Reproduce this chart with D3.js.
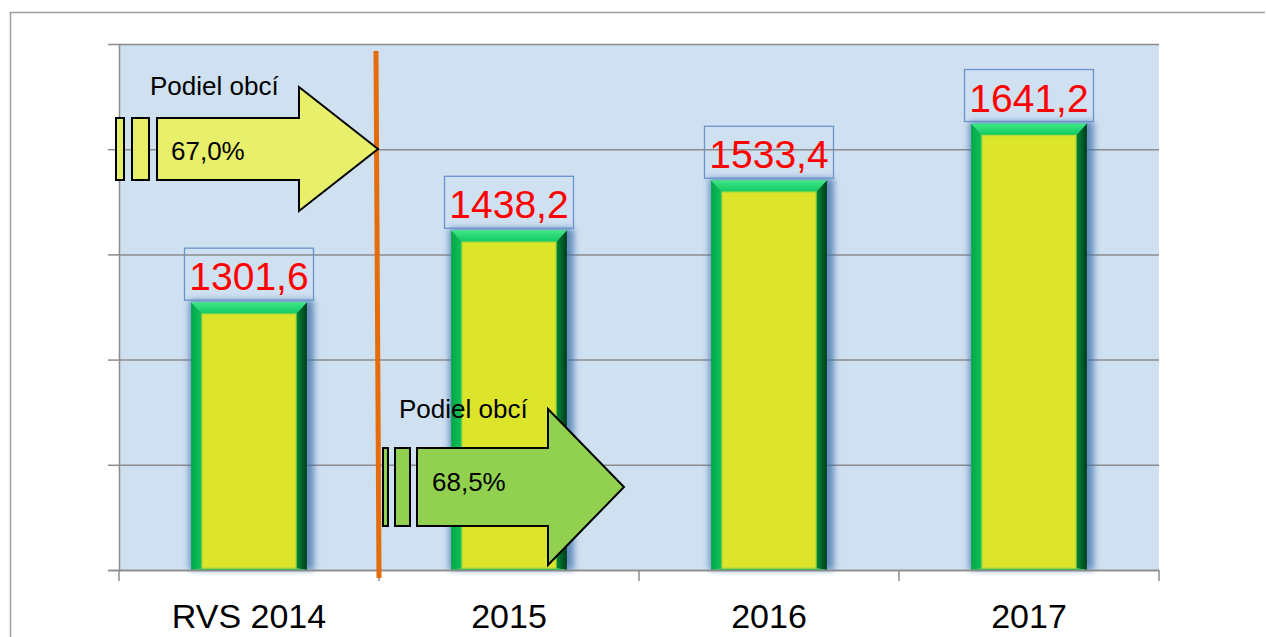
<!DOCTYPE html>
<html>
<head>
<meta charset="utf-8">
<script src="https://cdnjs.cloudflare.com/ajax/libs/d3/7.8.5/d3.min.js"></script>
<style>
  html, body { margin: 0; padding: 0; background: #ffffff; }
  svg { display: block; font-family: "Liberation Sans", Arial, sans-serif; }
</style>
</head>
<body>
<svg id="chart" width="1266" height="637"></svg>
<script>
// ---- data ----
const categories = ["RVS 2014", "2015", "2016", "2017"];
const values = [1301.6, 1438.2, 1533.4, 1641.2];
const yTicks = [800, 1000, 1200, 1400, 1600, 1800];
const shareLabels = ["Podiel obcí", "Podiel obcí"];
const shareValues = ["67,0%", "68,5%"];

const svg = d3.select("#chart");
const W = 1266, H = 637;
const plot = { left: 119, right: 1159, top: 44, bottom: 570 };

const x = d3.scaleBand().domain(categories).range([plot.left, plot.right]).paddingInner(0).paddingOuter(0);
const y = d3.scaleLinear().domain([800, 1800]).range([plot.bottom, plot.top]);

const defs = svg.append("defs");
const rightGrad = defs.append("linearGradient").attr("id", "rightBevel").attr("x1", "0").attr("x2", "1");
rightGrad.append("stop").attr("offset", "0").attr("stop-color", "#008a3a");
rightGrad.append("stop").attr("offset", "1").attr("stop-color", "#003d18");
const leftGrad = defs.append("linearGradient").attr("id", "leftBevel").attr("x1", "0").attr("x2", "1");
leftGrad.append("stop").attr("offset", "0").attr("stop-color", "#00a848");
leftGrad.append("stop").attr("offset", "1").attr("stop-color", "#12c05a");
const topGrad = defs.append("linearGradient").attr("id", "topBevel").attr("x1", "0").attr("x2", "0").attr("y1", "0").attr("y2", "1");
topGrad.append("stop").attr("offset", "0").attr("stop-color", "#40e888");
topGrad.append("stop").attr("offset", "1").attr("stop-color", "#10c860");
const blur = defs.append("filter").attr("id", "glow").attr("x", "-30%").attr("y", "-10%").attr("width", "160%").attr("height", "120%");
blur.append("feGaussianBlur").attr("stdDeviation", 3);

// outer frame (top and left edges)
svg.append("line").attr("x1", 10).attr("x2", 1265).attr("y1", 12.5).attr("y2", 12.5)
  .attr("stroke", "#a0a0a0").attr("stroke-width", 1.5);
svg.append("line").attr("x1", 10.5).attr("x2", 10.5).attr("y1", 12).attr("y2", H)
  .attr("stroke", "#a0a0a0").attr("stroke-width", 1.5);

// plot background
svg.append("rect").attr("x", plot.left).attr("y", plot.top)
  .attr("width", plot.right - plot.left).attr("height", plot.bottom - plot.top)
  .attr("fill", "#cfe0f1");

// gridlines
const yAxis = d3.axisLeft(y).tickValues(yTicks).tickSize(-(plot.right - plot.left)).tickFormat("").tickSizeOuter(0);
const gy = svg.append("g").attr("transform", `translate(${plot.left},0)`).call(yAxis);
gy.select(".domain").attr("stroke", "#8c8c8c").attr("stroke-width", 1.5);
gy.selectAll(".tick line").attr("stroke", "#8c8c8c").attr("stroke-width", 1.5);
// left tick stubs
const yStub = d3.axisLeft(y).tickValues(yTicks).tickSize(11).tickFormat("").tickSizeOuter(0);
const gys = svg.append("g").attr("transform", `translate(${plot.left},0)`).call(yStub);
gys.select(".domain").remove();
gys.selectAll(".tick line").attr("stroke", "#8c8c8c").attr("stroke-width", 1.5);

// bars
const barW = x.bandwidth() * 0.445;
const bars = svg.append("g").selectAll("g.bar").data(values).join("g").attr("class", "bar");
bars.each(function (v, i) {
  const g = d3.select(this);
  const cx = x(categories[i]) + x.bandwidth() / 2;
  const x0 = cx - barW / 2, x1 = cx + barW / 2;
  const yt = y(v) - 4, yb = plot.bottom;
  const bw = 11, bt = 12, bb = 2;
  // blue glow
  g.append("rect").attr("x", x0 - 2).attr("y", yt - 2).attr("width", barW + 9).attr("height", yb - yt + 2)
    .attr("fill", "#3d6fa8").attr("opacity", 0.75).attr("filter", "url(#glow)");
  // left bevel
  g.append("path").attr("d", `M${x0},${yt}L${x0 + bw},${yt + bt}L${x0 + bw},${yb - bb}L${x0},${yb}Z`).attr("fill", "url(#leftBevel)");
  // right bevel
  g.append("path").attr("d", `M${x1},${yt}L${x1 - bw},${yt + bt}L${x1 - bw},${yb - bb}L${x1},${yb}Z`).attr("fill", "url(#rightBevel)");
  // top bevel
  g.append("path").attr("d", `M${x0},${yt}L${x1},${yt}L${x1 - bw},${yt + bt}L${x0 + bw},${yt + bt}Z`).attr("fill", "url(#topBevel)");
  // bottom bevel
  g.append("path").attr("d", `M${x0},${yb}L${x1},${yb}L${x1 - bw},${yb - bb}L${x0 + bw},${yb - bb}Z`).attr("fill", "#30c050");
  // inner face
  g.append("rect").attr("x", x0 + bw).attr("y", yt + bt).attr("width", barW - 2 * bw).attr("height", yb - bb - yt - bt)
    .attr("fill", "#dde52a").attr("stroke", "#b8dc38").attr("stroke-width", 1.5);
});

// bottom axis
svg.append("line").attr("x1", 108).attr("x2", plot.right).attr("y1", plot.bottom + 0.5).attr("y2", plot.bottom + 0.5)
  .attr("stroke", "#8c8c8c").attr("stroke-width", 1.5);
const bounds = categories.map(c => x(c)).concat([plot.right]);
svg.append("g").selectAll("line").data(bounds).join("line")
  .attr("x1", d => d).attr("x2", d => d).attr("y1", plot.bottom).attr("y2", plot.bottom + 11)
  .attr("stroke", "#8c8c8c").attr("stroke-width", 1.5);
svg.append("g").selectAll("text").data(categories).join("text")
  .attr("x", d => x(d) + x.bandwidth() / 2).attr("y", 628)
  .attr("text-anchor", "middle").attr("font-size", 34).attr("fill", "#000").text(d => d);

// value labels
const fmt = v => d3.format(".1f")(v).replace(".", ",");
const lab = svg.append("g").selectAll("g").data(values).join("g");
lab.each(function (v, i) {
  const g = d3.select(this);
  const cx = x(categories[i]) + x.bandwidth() / 2;
  const yt = y(v) - 4;
  g.append("rect").attr("x", cx - 64.5).attr("y", yt - 54).attr("width", 129).attr("height", 52)
    .attr("fill", "none").attr("stroke", "#6a94cc").attr("stroke-width", 1.3);
  g.append("text").attr("x", cx).attr("y", yt - 12).attr("text-anchor", "middle")
    .attr("font-size", 39).attr("fill", "#ff0000").text(fmt(v));
});

// arrow helper
function arrow(cfg) {
  const g = svg.append("g");
  const { s1, s2, bx0, bx1, cy, bh, hh, tip, fill } = cfg;
  [s1, s2].forEach(s => {
    g.append("rect").attr("x", s[0]).attr("y", cy - bh).attr("width", s[1] - s[0]).attr("height", 2 * bh)
      .attr("fill", fill).attr("stroke", "#000").attr("stroke-width", 2);
  });
  g.append("path")
    .attr("d", `M${bx0},${cy - bh}L${bx1},${cy - bh}L${bx1},${cy - hh}L${tip},${cy}L${bx1},${cy + hh}L${bx1},${cy + bh}L${bx0},${cy + bh}Z`)
    .attr("fill", fill).attr("stroke", "#000").attr("stroke-width", 2).attr("stroke-linejoin", "miter");
  return g;
}

const b = x(categories[1]); // boundary between RVS 2014 and 2015

// arrow 2 (green) – drawn before separator
const a2 = arrow({ s1: [b + 4, b + 9], s2: [b + 16, b + 31], bx0: b + 38, bx1: b + 169, cy: 487, bh: 39, hh: 78, tip: b + 245, fill: "#92d050" });
a2.append("text").attr("x", b + 53).attr("y", 491).attr("font-size", 26).attr("fill", "#000").text(shareValues[1]);
svg.append("text").attr("x", b + 20).attr("y", 418).attr("font-size", 26).attr("fill", "#000").text(shareLabels[1]);

// orange separator
svg.append("line").attr("x1", b - 3).attr("y1", 51).attr("x2", b).attr("y2", 578)
  .attr("stroke", "#e46c0a").attr("stroke-width", 5);

// arrow 1 (yellow)
const a1 = arrow({ s1: [116, 124], s2: [132, 149], bx0: 157, bx1: 299, cy: 149, bh: 31, hh: 62, tip: b - 1, fill: "#e8ef6a" });
a1.append("text").attr("x", 171).attr("y", 160).attr("font-size", 26).attr("fill", "#000").text(shareValues[0]);
svg.append("text").attr("x", 150).attr("y", 95).attr("font-size", 26).attr("fill", "#000").text(shareLabels[0]);
</script>
</body>
</html>
